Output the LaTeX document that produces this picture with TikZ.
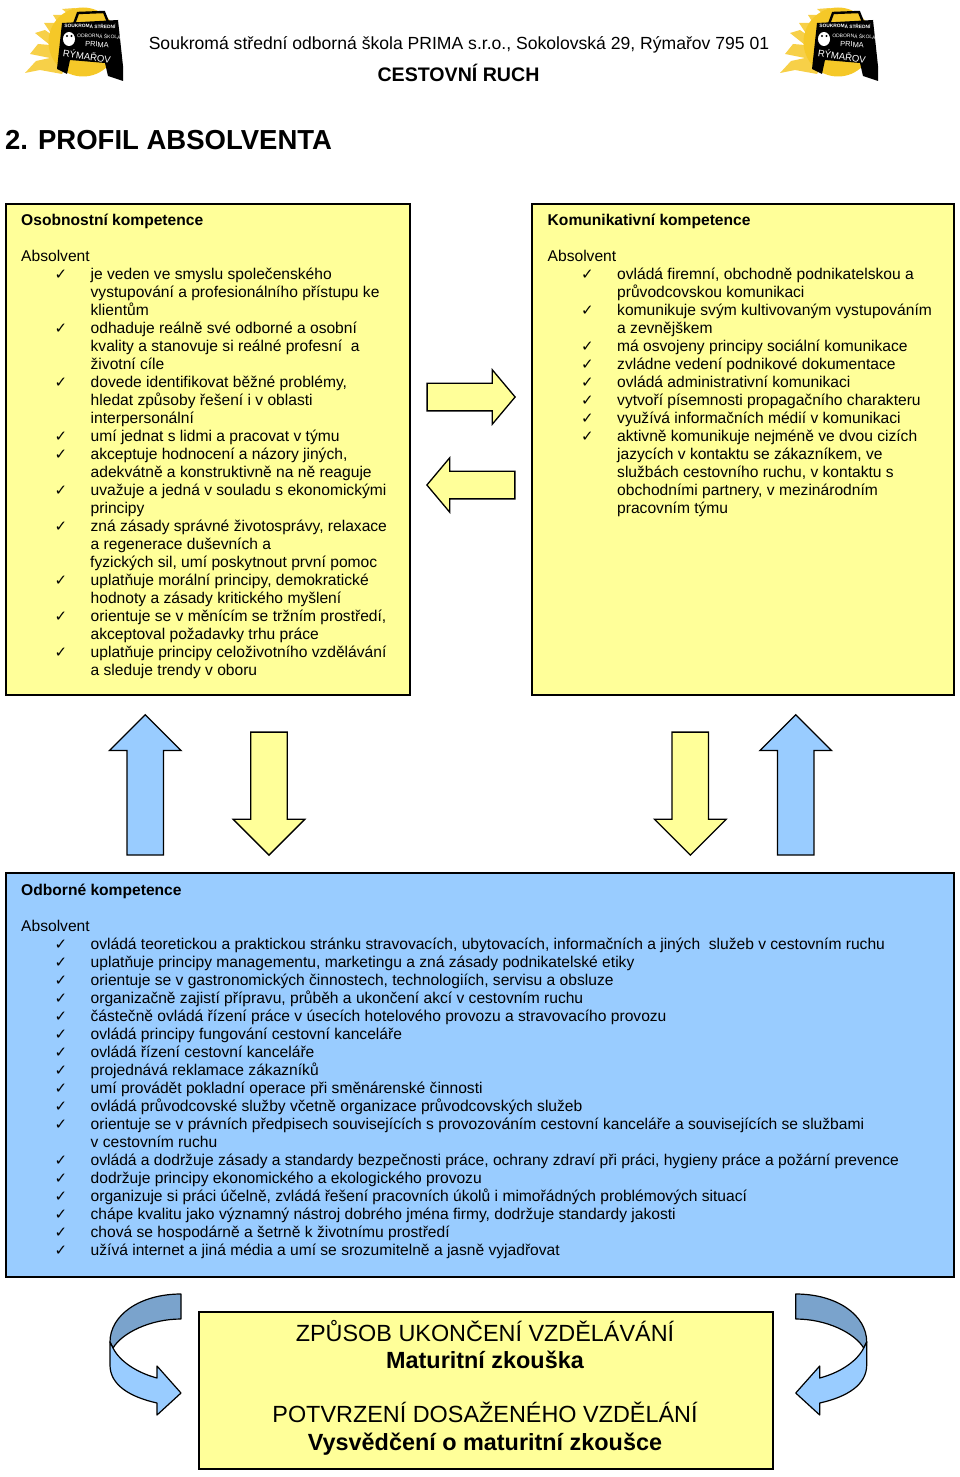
\documentclass[tikz,border=0pt]{standalone}
\usepackage{fontspec}
\usepackage{xcolor}
\setmainfont{Liberation Sans}
\newfontfamily\checkfont{DejaVu Sans}
\usetikzlibrary{shapes.arrows}

\definecolor{my_yellow}{RGB}{255,255,153}
\definecolor{my_blue}{RGB}{153,204,255}
\definecolor{my_blue_dark}{RGB}{122,163,204}
\definecolor{my_sun}{RGB}{245,200,40}

\newcommand{\ck}{\makebox[69.5pt][l]{\hspace{33.5pt}{\checkfont\fontsize{15}{18}\selectfont ✓}}}
\newcommand{\nk}{\makebox[69.5pt]{}}

\newcommand{\turnarrow}{
	\draw[line width=1.2pt, fill=my_blue_dark, line join=round] (181,1294) .. controls (140,1294) and (110,1315) .. (110,1342) -- (113,1348) .. controls (122,1333) and (150,1319) .. (181,1319) -- cycle;
	\draw[line width=1.2pt, fill=my_blue, line join=round] (113,1348) .. controls (120,1362) and (138,1373) .. (157,1378) -- (157,1366) -- (181,1393) -- (157,1415) -- (157,1403) .. controls (130,1397) and (110,1385) .. (110,1365) -- (110,1342) -- cycle;
}
\newcommand{\schoollogo}[1]{
	\fill[my_sun!85!white] (62,74) -- (40,70) -- (25,73) -- (36,61) -- (50,58) -- (30,54) -- (38,44) -- (50,45) -- (35,33) -- (45,30) -- (52,35) -- (44,23) -- (55,23) -- (60,26) -- (53,15) -- (63,15) -- (68,14) -- (62,9) -- (75,8) -- (85,30) -- cycle;
	\fill[my_sun] (83,42) circle (34.5);
	\draw[black, line width=2.4pt, fill=my_sun] (74,24) -- (78,13) -- (104,12) -- (108,22);
	\fill[black] (62,23) -- (118,20) -- (123,66) -- (123,81) -- (108,76) -- (105,63) -- (70,60) -- (67,74) -- (57,69) -- cycle;
	\fill[white] (69,39) ellipse (6 and 7);
	\fill[black] (67,36) circle (1.2) (71.5,36) circle (1.2);
	\node[logotext, rotate=-2, font=\bfseries\fontsize{4.8}{6}\selectfont] (#1a) at (90,26) {SOUKROMÁ STŘEDNÍ};
	\node[logotext, rotate=-3, font=\fontsize{5}{6}\selectfont] (#1b) at (99,36) {ODBORNÁ ŠKOLA};
	\node[logotext, rotate=-3, font=\fontsize{7.5}{8}\selectfont] (#1c) at (97,44.5) {PRIMA};
	\node[logotext, rotate=-8, font=\fontsize{9.5}{11}\selectfont] (#1d) at (87,56) {RÝMAŘOV};
}

\tikzset{
	panel/.style = {rectangle, draw=black, line width=1.6pt, anchor=north west, inner sep=0pt, outer sep=0pt},
	paneltext/.style = {anchor=north west, inner sep=0pt, align=left, font=\fontsize{15.6}{18}\selectfont},
	titletext/.style = {anchor=base, inner sep=0pt},
	logotext/.style = {white, inner sep=0pt},
	endtext/.style = {anchor=base, inner sep=0pt, font=\fontsize{23.4}{27}\selectfont},
	endbold/.style = {endtext, font=\bfseries\fontsize{23.4}{27}\selectfont},
	bigarrow/.style = {single arrow, draw=black, line width=1.3pt, outer sep=0pt},
	horarrow/.style = {bigarrow, fill=my_yellow, inner sep=13.2pt, minimum height=88pt, minimum width=52.6pt, single arrow tip angle=100, single arrow head extend=13.3pt},
	vertarrow/.style = {bigarrow, inner sep=17.6pt, minimum width=70.5pt, single arrow tip angle=90, single arrow head extend=17.6pt},
	uparrow/.style = {vertarrow, fill=my_blue, shape border rotate=90, minimum height=140.3pt},
	downarrow/.style = {vertarrow, fill=my_yellow, shape border rotate=270, minimum height=123pt}
}

\begin{document}
\begin{tikzpicture}[x=1pt, y=-1pt]

	\useasboundingbox (0,0) rectangle (960,1477);

	\schoollogo{logol}
	\begin{scope}[xshift=755pt]
		\schoollogo{logor}
	\end{scope}

	\node[titletext, font=\fontsize{17.58}{20}\selectfont] (school) at (459,50) {Soukromá střední odborná škola PRIMA s.r.o., Sokolovská 29, Rýmařov 795 01};
	\node[titletext, font=\bfseries\fontsize{19.6}{22}\selectfont] (branch) at (458.5,82) {CESTOVNÍ RUCH};
	\node[titletext, font=\bfseries\fontsize{27.5}{32}\selectfont] (profil) at (168.5,149.5) {2. PROFIL ABSOLVENTA};

	% panels
	\node[panel, fill=my_yellow, minimum width=404pt, minimum height=491pt] (osobni) at (6,204) {};
	\node[panel, fill=my_yellow, minimum width=422pt, minimum height=491pt] (komunik) at (532,204) {};
	\node[panel, fill=my_blue, minimum width=948pt, minimum height=404pt] (odborne) at (6,873) {};
	\node[panel, fill=my_yellow, minimum width=574pt, minimum height=157pt] (ukonceni) at (199,1312) {};

	\node[paneltext] (osobnitext) at (21,213.5) {\textbf{Osobnostní kompetence}\\[18pt]
		Absolvent\\
		\ck je veden ve smyslu společenského\\
		\nk vystupování a profesionálního přístupu ke\\
		\nk klientům\\
		\ck odhaduje reálně své odborné a osobní\\
		\nk kvality a stanovuje si reálné profesní\ \ a\\
		\nk životní cíle\\
		\ck dovede identifikovat běžné problémy,\\
		\nk hledat způsoby řešení i v oblasti\\
		\nk interpersonální\\
		\ck umí jednat s lidmi a pracovat v týmu\\
		\ck akceptuje hodnocení a názory jiných,\\
		\nk adekvátně a konstruktivně na ně reaguje\\
		\ck uvažuje a jedná v souladu s ekonomickými\\
		\nk principy\\
		\ck zná zásady správné životosprávy, relaxace\\
		\nk a regenerace duševních a\\
		\makebox[69pt]{}fyzických sil, umí poskytnout první pomoc\\
		\ck uplatňuje morální principy, demokratické\\
		\nk hodnoty a zásady kritického myšlení\\
		\ck orientuje se v měnícím se tržním prostředí,\\
		\nk akceptoval požadavky trhu práce\\
		\ck uplatňuje principy celoživotního vzdělávání\\
		\nk a sleduje trendy v oboru};

	\node[paneltext] (komuniktext) at (547.5,213.5) {\textbf{Komunikativní kompetence}\\[18pt]
		Absolvent\\
		\ck ovládá firemní, obchodně podnikatelskou a\\
		\nk průvodcovskou komunikaci\\
		\ck komunikuje svým kultivovaným vystupováním\\
		\nk a zevnějškem\\
		\ck má osvojeny principy sociální komunikace\\
		\ck zvládne vedení podnikové dokumentace\\
		\ck ovládá administrativní komunikaci\\
		\ck vytvoří písemnosti propagačního charakteru\\
		\ck využívá informačních médií v komunikaci\\
		\ck aktivně komunikuje nejméně ve dvou cizích\\
		\nk jazycích v kontaktu se zákazníkem, ve\\
		\nk službách cestovního ruchu, v kontaktu s\\
		\nk obchodními partnery, v mezinárodním\\
		\nk pracovním týmu};

	\node[paneltext] (odbornetext) at (21,883.5) {\textbf{Odborné kompetence}\\[18pt]
		Absolvent\\
		\ck ovládá teoretickou a praktickou stránku stravovacích, ubytovacích, informačních a jiných\ \ služeb v cestovním ruchu\\
		\ck uplatňuje principy managementu, marketingu a zná zásady podnikatelské etiky\\
		\ck orientuje se v gastronomických činnostech, technologiích, servisu a obsluze\\
		\ck organizačně zajistí přípravu, průběh a ukončení akcí v cestovním ruchu\\
		\ck částečně ovládá řízení práce v úsecích hotelového provozu a stravovacího provozu\\
		\ck ovládá principy fungování cestovní kanceláře\\
		\ck ovládá řízení cestovní kanceláře\\
		\ck projednává reklamace zákazníků\\
		\ck umí provádět pokladní operace při směnárenské činnosti\\
		\ck ovládá průvodcovské služby včetně organizace průvodcovských služeb\\
		\ck orientuje se v právních předpisech souvisejících s provozováním cestovní kanceláře a souvisejících se službami\\
		\nk v cestovním ruchu\\
		\ck ovládá a dodržuje zásady a standardy bezpečnosti práce, ochrany zdraví při práci, hygieny práce a požární prevence\\
		\ck dodržuje principy ekonomického a ekologického provozu\\
		\ck organizuje si práci účelně, zvládá řešení pracovních úkolů i mimořádných problémových situací\\
		\ck chápe kvalitu jako významný nástroj dobrého jména firmy, dodržuje standardy jakosti\\
		\ck chová se hospodárně a šetrně k životnímu prostředí\\
		\ck užívá internet a jiná média a umí se srozumitelně a jasně vyjadřovat};

	\node[endtext] (zpusob) at (485,1341) {ZPŮSOB UKONČENÍ VZDĚLÁVÁNÍ};
	\node[endbold] (zkouska) at (485,1368) {Maturitní zkouška};
	\node[endtext] (potvrzeni) at (485,1422) {POTVRZENÍ DOSAŽENÉHO VZDĚLÁNÍ};
	\node[endbold] (vysvedceni) at (485,1450) {Vysvědčení o maturitní zkoušce};

	% arrows
	\node[horarrow] (toright) at (465.3,397) {};
	\node[horarrow, shape border rotate=180] (toleft) at (476.7,485) {};
	\node[uparrow] (upa) at (145.3,794) {};
	\node[downarrow] (downa) at (269,784.5) {};
	\node[downarrow] (downb) at (690.3,784.5) {};
	\node[uparrow] (upb) at (795.7,794) {};

	\turnarrow
	\begin{scope}[xshift=976.7pt, xscale=-1]
		\turnarrow
	\end{scope}

\end{tikzpicture}
\end{document}
